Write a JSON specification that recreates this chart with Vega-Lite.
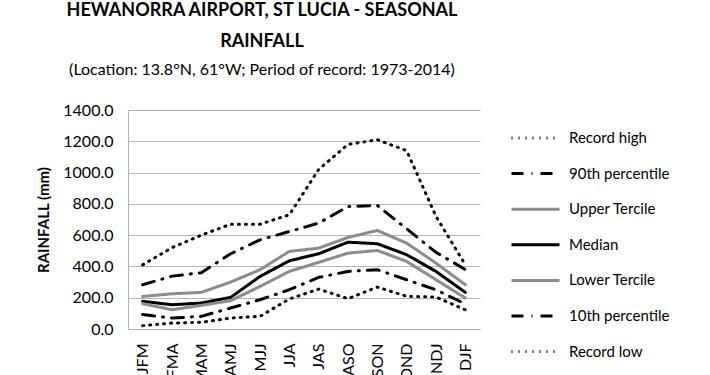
{
  "$schema": "https://vega.github.io/schema/vega-lite/v6.json",
  "autosize": "none",
  "width": 352,
  "height": 219,
  "padding": {"left": 128, "top": 110, "right": 230, "bottom": 46},
  "background": "white",
  "title": {
    "text": ["HEWANORRA AIRPORT, ST LUCIA - SEASONAL", "RAINFALL"],
    "subtitle": "(Location: 13.8°N, 61°W; Period of record: 1973-2014)",
    "font": "Lato",
    "fontSize": 18,
    "fontWeight": "bold",
    "color": "black",
    "lineHeight": 31,
    "subtitleFont": "Lato",
    "subtitleFontSize": 16,
    "subtitleColor": "black",
    "subtitlePadding": 11,
    "anchor": "middle",
    "dx": -42,
    "offset": 24
  },
  "data": {
    "values": [
      {"season": "JFM", "series": "Record high", "rain": 410},
      {"season": "FMA", "series": "Record high", "rain": 520},
      {"season": "MAM", "series": "Record high", "rain": 600},
      {"season": "AMJ", "series": "Record high", "rain": 670},
      {"season": "MJJ", "series": "Record high", "rain": 670},
      {"season": "JJA", "series": "Record high", "rain": 730},
      {"season": "JAS", "series": "Record high", "rain": 1020},
      {"season": "ASO", "series": "Record high", "rain": 1180},
      {"season": "SON", "series": "Record high", "rain": 1210},
      {"season": "OND", "series": "Record high", "rain": 1140},
      {"season": "NDJ", "series": "Record high", "rain": 720},
      {"season": "DJF", "series": "Record high", "rain": 410},
      {"season": "JFM", "series": "90th percentile", "rain": 283},
      {"season": "FMA", "series": "90th percentile", "rain": 338},
      {"season": "MAM", "series": "90th percentile", "rain": 360},
      {"season": "AMJ", "series": "90th percentile", "rain": 481},
      {"season": "MJJ", "series": "90th percentile", "rain": 570},
      {"season": "JJA", "series": "90th percentile", "rain": 623},
      {"season": "JAS", "series": "90th percentile", "rain": 677},
      {"season": "ASO", "series": "90th percentile", "rain": 783},
      {"season": "SON", "series": "90th percentile", "rain": 790},
      {"season": "OND", "series": "90th percentile", "rain": 640},
      {"season": "NDJ", "series": "90th percentile", "rain": 490},
      {"season": "DJF", "series": "90th percentile", "rain": 380},
      {"season": "JFM", "series": "Upper Tercile", "rain": 208},
      {"season": "FMA", "series": "Upper Tercile", "rain": 225},
      {"season": "MAM", "series": "Upper Tercile", "rain": 234},
      {"season": "AMJ", "series": "Upper Tercile", "rain": 300},
      {"season": "MJJ", "series": "Upper Tercile", "rain": 379},
      {"season": "JJA", "series": "Upper Tercile", "rain": 496},
      {"season": "JAS", "series": "Upper Tercile", "rain": 517},
      {"season": "ASO", "series": "Upper Tercile", "rain": 585},
      {"season": "SON", "series": "Upper Tercile", "rain": 630},
      {"season": "OND", "series": "Upper Tercile", "rain": 549},
      {"season": "NDJ", "series": "Upper Tercile", "rain": 421},
      {"season": "DJF", "series": "Upper Tercile", "rain": 283},
      {"season": "JFM", "series": "Median", "rain": 177},
      {"season": "FMA", "series": "Median", "rain": 155},
      {"season": "MAM", "series": "Median", "rain": 166},
      {"season": "AMJ", "series": "Median", "rain": 202},
      {"season": "MJJ", "series": "Median", "rain": 336},
      {"season": "JJA", "series": "Median", "rain": 436},
      {"season": "JAS", "series": "Median", "rain": 481},
      {"season": "ASO", "series": "Median", "rain": 555},
      {"season": "SON", "series": "Median", "rain": 545},
      {"season": "OND", "series": "Median", "rain": 475},
      {"season": "NDJ", "series": "Median", "rain": 368},
      {"season": "DJF", "series": "Median", "rain": 234},
      {"season": "JFM", "series": "Lower Tercile", "rain": 162},
      {"season": "FMA", "series": "Lower Tercile", "rain": 123},
      {"season": "MAM", "series": "Lower Tercile", "rain": 151},
      {"season": "AMJ", "series": "Lower Tercile", "rain": 181},
      {"season": "MJJ", "series": "Lower Tercile", "rain": 272},
      {"season": "JJA", "series": "Lower Tercile", "rain": 368},
      {"season": "JAS", "series": "Lower Tercile", "rain": 426},
      {"season": "ASO", "series": "Lower Tercile", "rain": 485},
      {"season": "SON", "series": "Lower Tercile", "rain": 502},
      {"season": "OND", "series": "Lower Tercile", "rain": 432},
      {"season": "NDJ", "series": "Lower Tercile", "rain": 315},
      {"season": "DJF", "series": "Lower Tercile", "rain": 198},
      {"season": "JFM", "series": "10th percentile", "rain": 92},
      {"season": "FMA", "series": "10th percentile", "rain": 70},
      {"season": "MAM", "series": "10th percentile", "rain": 81},
      {"season": "AMJ", "series": "10th percentile", "rain": 134},
      {"season": "MJJ", "series": "10th percentile", "rain": 187},
      {"season": "JJA", "series": "10th percentile", "rain": 251},
      {"season": "JAS", "series": "10th percentile", "rain": 330},
      {"season": "ASO", "series": "10th percentile", "rain": 368},
      {"season": "SON", "series": "10th percentile", "rain": 379},
      {"season": "OND", "series": "10th percentile", "rain": 315},
      {"season": "NDJ", "series": "10th percentile", "rain": 251},
      {"season": "DJF", "series": "10th percentile", "rain": 160},
      {"season": "JFM", "series": "Record low", "rain": 21},
      {"season": "FMA", "series": "Record low", "rain": 38},
      {"season": "MAM", "series": "Record low", "rain": 43},
      {"season": "AMJ", "series": "Record low", "rain": 70},
      {"season": "MJJ", "series": "Record low", "rain": 81},
      {"season": "JJA", "series": "Record low", "rain": 192},
      {"season": "JAS", "series": "Record low", "rain": 255},
      {"season": "ASO", "series": "Record low", "rain": 194},
      {"season": "SON", "series": "Record low", "rain": 268},
      {"season": "OND", "series": "Record low", "rain": 209},
      {"season": "NDJ", "series": "Record low", "rain": 204},
      {"season": "DJF", "series": "Record low", "rain": 123}
    ]
  },
  "mark": {"type": "line", "strokeWidth": 3, "strokeCap": "round", "strokeJoin": "round"},
  "encoding": {
    "x": {
      "field": "season",
      "type": "ordinal",
      "sort": null,
      "scale": {"type": "point", "padding": 0.5},
      "axis": {"title": null, "labelAngle": -90, "labelAlign": "right", "labelBaseline": "middle", "labelPadding": 14, "ticks": false, "labelFont": "Lato", "labelFontSize": 16, "labelColor": "black", "domainColor": "#b4b4b4", "grid": false}
    },
    "y": {
      "field": "rain",
      "type": "quantitative",
      "scale": {"domain": [0, 1400], "nice": false},
      "axis": {"title": "RAINFALL (mm)", "values": [0, 200, 400, 600, 800, 1000, 1200, 1400], "format": ".1f", "ticks": false, "labelPadding": 15, "titlePadding": 11, "labelFont": "Lato", "labelFontSize": 16, "labelColor": "black", "titleFont": "Lato", "titleFontSize": 15, "titleFontWeight": "bold", "titleColor": "black", "domainColor": "#b4b4b4", "gridColor": "#b4b4b4", "gridWidth": 1.2}
    },
    "color": {
      "field": "series",
      "type": "nominal",
      "scale": {
        "domain": ["Record high", "90th percentile", "Upper Tercile", "Median", "Lower Tercile", "10th percentile", "Record low"],
        "range": ["black", "black", "#8c8c8c", "black", "#8c8c8c", "black", "black"]
      },
      "legend": {
        "title": null,
        "orient": "none",
        "legendX": 382,
        "legendY": 18,
        "symbolType": "stroke",
        "symbolSize": 2304,
        "symbolStrokeWidth": 3,
        "clipHeight": 20,
        "rowPadding": 15.6,
        "labelOffset": 8,
        "labelFont": "Lato",
        "labelFontSize": 15,
        "labelColor": "black"
      }
    },
    "strokeDash": {
      "field": "series",
      "type": "nominal",
      "scale": {
        "domain": ["Record high", "90th percentile", "Upper Tercile", "Median", "Lower Tercile", "10th percentile", "Record low"],
        "range": [[1, 6], [12, 8, 1, 8], [1, 0], [1, 0], [1, 0], [12, 8, 1, 8], [1, 6]]
      }
    },
    "order": {"field": "series"}
  },
  "config": {
    "view": {"stroke": null},
    "font": "Lato"
  }
}
